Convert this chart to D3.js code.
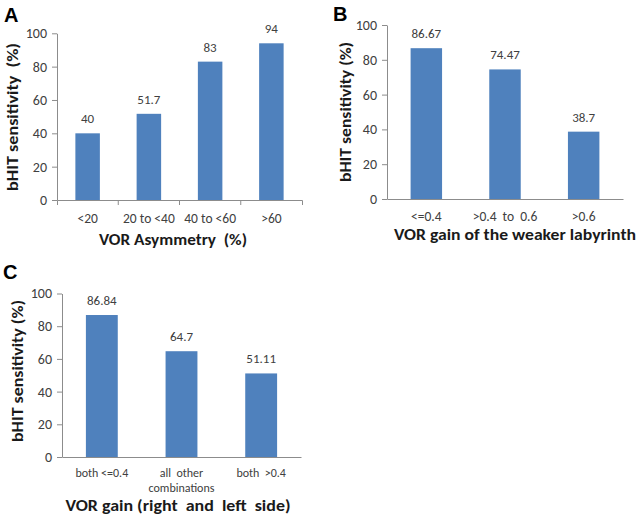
<!DOCTYPE html>
<html>
<head>
<meta charset="utf-8">
<script src="https://cdn.jsdelivr.net/npm/d3@7"></script>
<style>
  html, body { margin: 0; padding: 0; background: #fff; }
  svg { display: block; }
  text { font-family: Carlito, Lato, "Open Sans", sans-serif; }
</style>
</head>
<body>
<script>
// ---- data ----
const yTicks = [0, 20, 40, 60, 80, 100];

const catsA = ["<20", "20 to <40", "40 to <60", ">60"];
const valsA = [40, 51.7, 83, 94];

const catsB = ["<=0.4", ">0.4  to  0.6", ">0.6"];
const valsB = [86.67, 74.47, 38.7];

const catsC = ["both <=0.4", "all  other|combinations", "both  >0.4"];
const valsC = [86.84, 64.7, 51.11];

const yTitle = "bHIT sensitivity  (%)";
const yTitleBC = "bHIT sensitivity (%)";
const xTitleA = "VOR Asymmetry  (%)";
const xTitleB = "VOR gain of the weaker labyrinth";
const xTitleC = "VOR gain (right  and  left  side)";

// ---- drawing ----
const W = 641, H = 518;
const svg = d3.select("body").append("svg").attr("width", W).attr("height", H);

const BAR = "#4f81bd", AXIS = "#8c8c8c", TXT = "#404040", TITLE = "#1a1a1a";

function panel(cfg) {
  const g = svg.append("g");
  const x = d3.scaleBand().domain(cfg.cats).range([cfg.x0, cfg.x1]).paddingInner(0.6).paddingOuter(0.3);
  const y = d3.scaleLinear().domain([0, 100]).range([cfg.y0, cfg.y1]);

  // y axis
  const ya = g.append("g").attr("transform", `translate(${cfg.x0},0)`)
    .call(d3.axisLeft(y).tickValues(yTicks).tickSize(5).tickSizeOuter(0).tickPadding(5));
  ya.select(".domain").attr("stroke", AXIS);
  ya.selectAll(".tick line").attr("stroke", AXIS);
  ya.selectAll(".tick text").attr("fill", TXT).style("font-size", "14px").attr("font-family", null);

  // bars
  g.selectAll("rect.bar").data(cfg.vals).join("rect").attr("class", "bar")
    .attr("x", (d, i) => x(cfg.cats[i]))
    .attr("width", x.bandwidth())
    .attr("y", d => y(d))
    .attr("height", d => y(0) - y(d))
    .attr("fill", BAR);

  // x axis line
  const xa = g.append("g").attr("transform", `translate(0,${cfg.y0})`)
    .call(d3.axisBottom(d3.scaleLinear().domain([0, 1]).range([cfg.x0, cfg.x1]))
      .tickValues([]).tickSizeOuter(cfg.xTicks ? 5 : 0));
  xa.select(".domain").attr("stroke", AXIS);

  if (cfg.xTicks) {
    g.selectAll("line.xt").data(cfg.cats.slice(0, -1)).join("line").attr("class", "xt")
      .attr("x1", c => x(c) + x.bandwidth() / 2 + x.step() / 2)
      .attr("x2", c => x(c) + x.bandwidth() / 2 + x.step() / 2)
      .attr("y1", cfg.y0).attr("y2", cfg.y0 + 5)
      .attr("stroke", AXIS);
  }

  // category labels
  const cl = g.selectAll("text.cat").data(cfg.cats).join("text").attr("class", "cat")
    .attr("text-anchor", "middle").attr("fill", TXT)
    .style("font-size", cfg.catSize + "px")
    .attr("y", cfg.y0 + cfg.catDy);
  cl.each(function (c) {
    const t = d3.select(this);
    c.split("|").forEach((line, k) => {
      t.append("tspan").attr("x", x(c) + x.bandwidth() / 2).attr("dy", k === 0 ? 0 : cfg.catLine)
        .style("white-space", "pre").text(line);
    });
  });

  // value labels
  g.selectAll("text.val").data(cfg.vals).join("text").attr("class", "val")
    .attr("text-anchor", "middle").attr("fill", TXT).style("font-size", "13px")
    .attr("x", (d, i) => x(cfg.cats[i]) + x.bandwidth() / 2)
    .attr("y", d => y(d) - 10)
    .text(d => String(d));

  // y title
  g.append("text")
    .attr("transform", `translate(${cfg.ytX},${cfg.ytY}) rotate(-90)`)
    .attr("text-anchor", "middle").attr("dy", "0.35em")
    .attr("fill", TITLE).attr("font-weight", "bold").style("font-size", "16px")
    .style("white-space", "pre")
    .attr("textLength", cfg.ytLen).attr("lengthAdjust", "spacingAndGlyphs")
    .text(cfg.yTitle);

  // x title
  g.append("text")
    .attr("x", cfg.xtX).attr("y", cfg.xtY)
    .attr("text-anchor", "middle")
    .attr("fill", TITLE).attr("font-weight", "bold").style("font-size", "16px")
    .style("white-space", "pre")
    .attr("textLength", cfg.xtLen).attr("lengthAdjust", "spacingAndGlyphs")
    .text(cfg.xTitle);

  // panel letter
  g.append("text").attr("x", cfg.lx).attr("y", cfg.ly)
    .attr("font-weight", "bold").style("font-size", "20px").attr("fill", "#000")
    .style("font-family", "'Liberation Sans', Arial, sans-serif")
    .text(cfg.letter);
}

panel({ letter: "A", lx: 4, ly: 22, cats: catsA, vals: valsA,
  x0: 57, x1: 302, y0: 200, y1: 33.3, xTicks: true,
  catSize: 13.5, catDy: 23, catLine: 15,
  yTitle: yTitle, ytX: 12, ytY: 117, ytLen: 148,
  xTitle: xTitleA, xtX: 173, xtY: 245, xtLen: 148 });

panel({ letter: "B", lx: 333, ly: 21, cats: catsB, vals: valsB,
  x0: 387, x1: 623, y0: 199, y1: 25, xTicks: false,
  catSize: 13.5, catDy: 22, catLine: 15,
  yTitle: yTitleBC, ytX: 345, ytY: 112, ytLen: 140,
  xTitle: xTitleB, xtX: 515, xtY: 240, xtLen: 242 });

panel({ letter: "C", lx: 3, ly: 279, cats: catsC, vals: valsC,
  x0: 62, x1: 301, y0: 457, y1: 293.5, xTicks: false,
  catSize: 12, catDy: 20, catLine: 15,
  yTitle: yTitleBC, ytX: 17, ytY: 371, ytLen: 142,
  xTitle: xTitleC, xtX: 178, xtY: 511, xtLen: 225 });
</script>
</body>
</html>
